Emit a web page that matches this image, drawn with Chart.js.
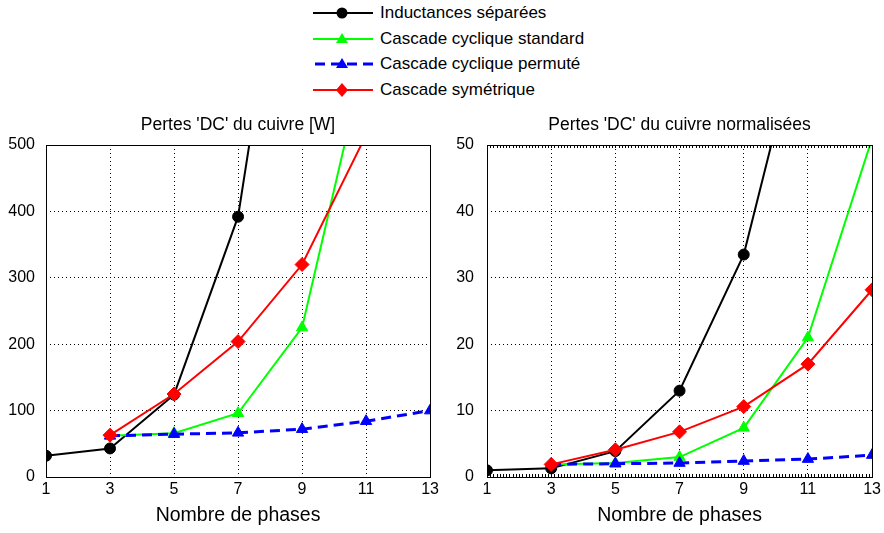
<!DOCTYPE html>
<html>
<head>
<meta charset="utf-8">
<script src="https://cdn.jsdelivr.net/npm/chart.js@4"></script>
<style>
  body { margin: 0; background: #fff; width: 884px; height: 533px; position: relative; overflow: hidden; font-family: "Liberation Sans", Arial, sans-serif; }
  canvas { position: absolute; top: 100px; }
  #left { left: 0; }
  #right { left: 442px; }
  #legend { position: absolute; left: 312px; top: 0; }
  .item { height: 25.7px; display: flex; align-items: center; font-size: 17px; color: #000; white-space: nowrap; }
  .item svg { margin-right: 6px; }
</style>
</head>
<body>
<div id="legend"></div>
<canvas id="left" width="442" height="433"></canvas>
<canvas id="right" width="442" height="433"></canvas>
<script>
const phases = [1, 3, 5, 7, 9, 11, 13];
const phasesCascade = [3, 5, 7, 9, 11, 13];
const seriesNames = ['Inductances séparées', 'Cascade cyclique standard', 'Cascade cyclique permuté', 'Cascade symétrique'];
const seriesColors = ['#000000', '#00ff00', '#0000ff', '#ff0000'];
const pointStyles = ['circle', 'triangle', 'triangle', 'rectRot'];

// pertes DC cuivre [W]
const lossSeparate = [32, 43, 124, 392, 1010, 2200, 4600];
const lossStandard = [62, 66, 96, 225, 640, 1560];
const lossPermuted = [62, 64.5, 66.5, 72, 84, 100];
const lossSymmetric = [63, 125, 204, 320, 515, 850];

// pertes normalisées
const normSeparate = [1, 1.3, 3.9, 13, 33.5, 72, 150];
const normStandard = [1.9, 2.1, 3.0, 7.4, 21, 51];
const normPermuted = [1.9, 2.0, 2.1, 2.4, 2.7, 3.3];
const normSymmetric = [1.9, 4.1, 6.8, 10.6, 17, 28.2];

const xTicks = [1, 3, 5, 7, 9, 11, 13];
const font = '"Liberation Sans", Arial, sans-serif';

function pts(xs, ys) {
    return ys.map((y, i) => ({ x: xs[i], y: y }));
}

function makeDatasets(sets) {
    return sets.map((s, i) => ({
        label: seriesNames[i],
        data: s,
        borderColor: seriesColors[i],
        backgroundColor: seriesColors[i],
        borderWidth: i === 2 ? 3 : 2,
        borderDash: i === 2 ? [10, 6] : [],
        pointStyle: pointStyles[i],
        pointRadius: i === 0 ? 5.5 : (i === 3 ? 7 : 6.5),
        pointBorderWidth: 1,
        order: 4 - i,
        tension: 0
    }));
}

// cadre noir autour de la zone de tracé + petites graduations
const framePlugin = {
    id: 'frame',
    afterDraw(chart, args, opts) {
        const { ctx, chartArea: a } = chart;
        ctx.save();
        ctx.strokeStyle = '#000';
        ctx.lineWidth = 1;
        if (opts.minor) {
            const sx = chart.scales.x;
            ctx.beginPath();
            for (let v = 1; v <= 13.001; v += 0.1) {
                const px = Math.round(sx.getPixelForValue(v)) + 0.5;
                ctx.moveTo(px, a.bottom); ctx.lineTo(px, a.bottom - 3);
                ctx.moveTo(px, a.top); ctx.lineTo(px, a.top + 3);
            }
            ctx.stroke();
        }
        ctx.strokeRect(Math.round(a.left) + 0.5, Math.round(a.top) + 0.5, Math.round(a.right - a.left), Math.round(a.bottom - a.top));
        ctx.restore();
    }
};

function makeChart(id, title, sets, yMax, yStep, yWidth, yPad, padRight, minor) {
    return new Chart(document.getElementById(id), {
        type: 'line',
        data: { datasets: makeDatasets(sets) },
        plugins: [framePlugin],
        options: {
            responsive: false,
            animation: false,
            layout: { padding: { right: padRight } },
            plugins: {
                legend: { display: false },
                tooltip: { enabled: false },
                frame: { minor: minor },
                title: {
                    display: true,
                    fullSize: false,
                    text: title,
                    color: '#000',
                    font: { family: font, size: 17.5, weight: 'normal' },
                    padding: { top: 15, bottom: 9 }
                }
            },
            scales: {
                x: {
                    type: 'linear',
                    min: 1, max: 13,
                    afterBuildTicks: s => { s.ticks = xTicks.map(v => ({ value: v })); },
                    afterFit: s => { s.height = 56; },
                    ticks: { color: '#000', font: { family: font, size: 16 }, padding: 3, maxRotation: 0 },
                    grid: { color: '#000', drawTicks: false, lineWidth: 1 },
                    border: { display: false, dash: [1, 3] },
                    title: {
                        display: true, text: 'Nombre de phases', color: '#000',
                        font: { family: font, size: 19.5 }, padding: { top: 0, bottom: 6 }
                    }
                },
                y: {
                    min: 0, max: yMax,
                    afterFit: s => { s.width = yWidth; },
                    ticks: { stepSize: yStep, color: '#000', font: { family: font, size: 16 }, padding: yPad },
                    grid: { color: '#000', drawTicks: false, lineWidth: 1 },
                    border: { display: false, dash: [1, 3] }
                }
            }
        }
    });
}

makeChart('left', "Pertes 'DC' du cuivre [W]",
    [pts(phases, lossSeparate), pts(phasesCascade, lossStandard), pts(phasesCascade, lossPermuted), pts(phasesCascade, lossSymmetric)],
    500, 100, 46, 11, 8, false);

makeChart('right', "Pertes 'DC' du cuivre normalisées",
    [pts(phases, normSeparate), pts(phasesCascade, normStandard), pts(phasesCascade, normPermuted), pts(phasesCascade, normSymmetric)],
    50, 10, 45, 13, 6, true);

// légende commune
const legend = document.getElementById('legend');
seriesNames.forEach((name, i) => {
    const c = seriesColors[i];
    let marker;
    if (pointStyles[i] === 'circle') marker = `<circle cx="30" cy="8" r="5.5" fill="${c}"/>`;
    else if (pointStyles[i] === 'triangle') marker = `<polygon points="30,2 36,12 24,12" fill="${c}"/>`;
    else marker = `<polygon points="30,1 36,8 30,15 24,8" fill="${c}"/>`;
    const dash = i === 2 ? 'stroke-dasharray="10,6" stroke-dashoffset="-2"' : '';
    const w = i === 2 ? 3 : 2;
    const row = document.createElement('div');
    row.className = 'item';
    row.innerHTML = `<svg width="62" height="16"><line x1="1" y1="8" x2="61" y2="8" stroke="${c}" stroke-width="${w}" ${dash}/>${marker}</svg>${name}`;
    legend.appendChild(row);
});
</script>
</body>
</html>
